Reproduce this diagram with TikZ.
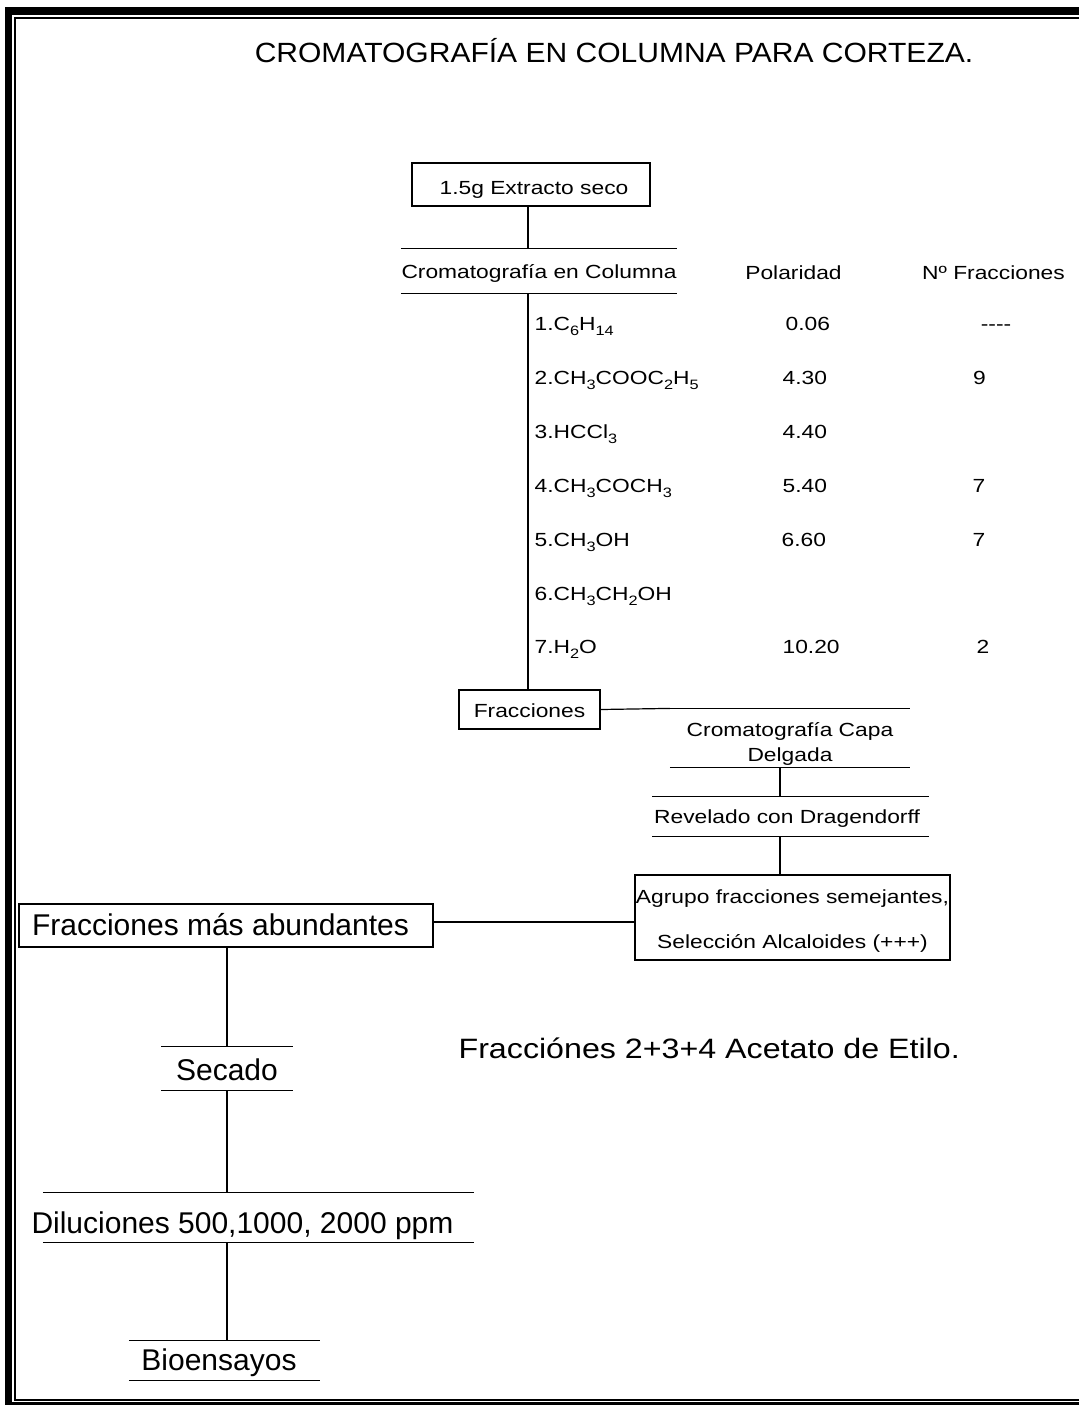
\documentclass[tikz,border=0pt]{standalone}
\usepackage{fontspec}
\setmainfont{Liberation Sans}
\newfontfamily\smallwide{Liberation Sans}[FakeStretch=1.2]
\newfontfamily\titlewide{Liberation Sans}[FakeStretch=1.08]
\newfontfamily\notewide{Liberation Sans}[FakeStretch=1.15]
% lowered, smaller digits for chemical formulas
\newcommand\chemsub[1]{\raisebox{-2.7pt}{\fontsize{6.8pt}{6.8pt}\selectfont #1}}
% centred stack of lines whose baseline is that of the last line
\newcommand\stacklines[1]{\begin{tabular}[b]{@{}c@{}}#1\end{tabular}}

\begin{document}
\begin{tikzpicture}[x=0.5pt,y=-0.5pt,
  line width=0.6pt,
  small/.style={font=\smallwide\fontsize{9.5pt}{11pt}\selectfont, inner sep=0pt},
  large/.style={font=\fontsize{15pt}{18pt}\selectfont, inner sep=0pt},
  framed/.style={draw, rectangle},
  plain/.style={rectangle},
  dropbase/.style={text height=#1, text depth=0pt},
  nudge/.style={execute at begin node={\hspace*{#1}}, execute at end node={\hspace*{-#1}}},
  cell/.style={small, anchor=base west},
  cellc/.style={small, anchor=base},
]
\useasboundingbox (0,0) rectangle (1079,1405);

% double page frame, open on the right
\draw[line width=3.75pt, line join=miter] (1079,11) -- (8.7,11) -- (8.7,1405.75) -- (1079,1405.75);
\draw[line width=1pt, line join=miter] (1079,17.7) -- (15.2,17.7) -- (15.2,1400) -- (1079,1400);

% title
\node[anchor=base, inner sep=0pt, font=\titlewide\fontsize{13.9pt}{16pt}\selectfont] (title) at (614,62) {CROMATOGRAFÍA EN COLUMNA PARA CORTEZA.};

% upper branch
\node[small, framed, minimum width=119pt, minimum height=21.5pt, dropbase=9.5pt, nudge=1.5pt] (extract) at (531,184.5) {1.5g Extracto seco};
\node[small, plain, minimum width=136pt, minimum height=22pt, dropbase=7pt] (column) at (539,271) {Cromatografía en Columna};
\node[cellc] (polhead) at (793.5,279) {Polaridad};
\node[cellc] (numhead) at (993.5,279) {Nº Fracciones};

% solvents
\node[cell] (s1) at (534,330) {1.C\chemsub{6}H\chemsub{14}};
\node[cell] (s2) at (534,384) {2.CH\chemsub{3}COOC\chemsub{2}H\chemsub{5}};
\node[cell] (s3) at (534,438) {3.HCCl\chemsub{3}};
\node[cell] (s4) at (534,492) {4.CH\chemsub{3}COCH\chemsub{3}};
\node[cell] (s5) at (534,546) {5.CH\chemsub{3}OH};
\node[cell] (s6) at (534,600) {6.CH\chemsub{3}CH\chemsub{2}OH};
\node[cell] (s7) at (534,653) {7.H\chemsub{2}O};

% polarity
\node[cell] (p1) at (785,330) {0.06};
\node[cell] (p2) at (782,384) {4.30};
\node[cell] (p3) at (782,438) {4.40};
\node[cell] (p4) at (782,492) {5.40};
\node[cell] (p5) at (781,546) {6.60};
\node[cell] (p7) at (782,653) {10.20};

% number of fractions
\node[cellc] (n1) at (996,330) {----};
\node[cellc] (n2) at (979.5,384) {9};
\node[cellc] (n4) at (979,492) {7};
\node[cellc] (n5) at (979,546) {7};
\node[cellc] (n7) at (983,653) {2};

\node[small, framed, minimum width=70.5pt, minimum height=19.5pt, dropbase=7.5pt] (fractions) at (529.5,709.5) {Fracciones};

% right branch
\node[small, plain, minimum width=119.5pt, minimum height=29pt, dropbase=23pt,
      font=\smallwide\fontsize{9.5pt}{12.5pt}\selectfont] (thinlayer) at (790,738) {\stacklines{Cromatografía Capa\\Delgada}};
\node[small, plain, minimum width=137.5pt, minimum height=19.5pt, dropbase=6.5pt, nudge=-1.75pt] (reveal) at (790.5,816.5) {Revelado con Dragendorff};
\node[small, framed, minimum width=157.5pt, minimum height=42.5pt, dropbase=30.5pt,
      font=\smallwide\fontsize{9.5pt}{22.5pt}\selectfont] (group) at (792.5,917.5) {\stacklines{Agrupo fracciones semejantes,\\Selección Alcaloides (+++)}};

% lower branch
\node[large, framed, minimum width=207pt, minimum height=21.5pt, dropbase=9.5pt, nudge=-2.75pt] (abundant) at (226,925.5) {Fracciones más abundantes};
\node[large, plain, minimum width=65pt, minimum height=21.5pt, dropbase=11.5pt] (dried) at (227,1068.5) {Secado};
\node[large, plain, minimum width=215pt, minimum height=24.5pt, dropbase=15.5pt, nudge=-8pt] (dilutions) at (258.5,1217.5) {Diluciones 500,1000, 2000 ppm};
\node[large, plain, minimum width=95pt, minimum height=19.5pt, dropbase=9.5pt, nudge=-2.75pt] (bioassay) at (224.5,1360.5) {Bioensayos};

\node[anchor=base west, inner sep=0pt, font=\notewide\fontsize{14pt}{17pt}\selectfont] (note) at (458,1058) {Fracciónes 2+3+4 Acetato de Etilo.};

% rules above and below the unframed steps
\foreach \n in {column,thinlayer,reveal,dried,dilutions,bioassay}
  \draw (\n.north west) -- (\n.north east) (\n.south west) -- (\n.south east);

% connectors
\coordinate (trunk) at (528,0);
\coordinate (branch) at (780,0);
\coordinate (stem) at (227,0);
\coordinate (link) at (0,922);
\draw (extract.south -| trunk) -- (column.north -| trunk);
\draw (column.south -| trunk) -- (fractions.north -| trunk);
\draw (fractions.east) -- (thinlayer.north west);
\draw (thinlayer.south -| branch) -- (reveal.north -| branch);
\draw (reveal.south -| branch) -- (group.north -| branch);
\draw (group.west |- link) -- (abundant.east |- link);
\draw (abundant.south -| stem) -- (dried.north -| stem);
\draw (dried.south -| stem) -- (dilutions.north -| stem);
\draw (dilutions.south -| stem) -- (bioassay.north -| stem);
\end{tikzpicture}
\end{document}
